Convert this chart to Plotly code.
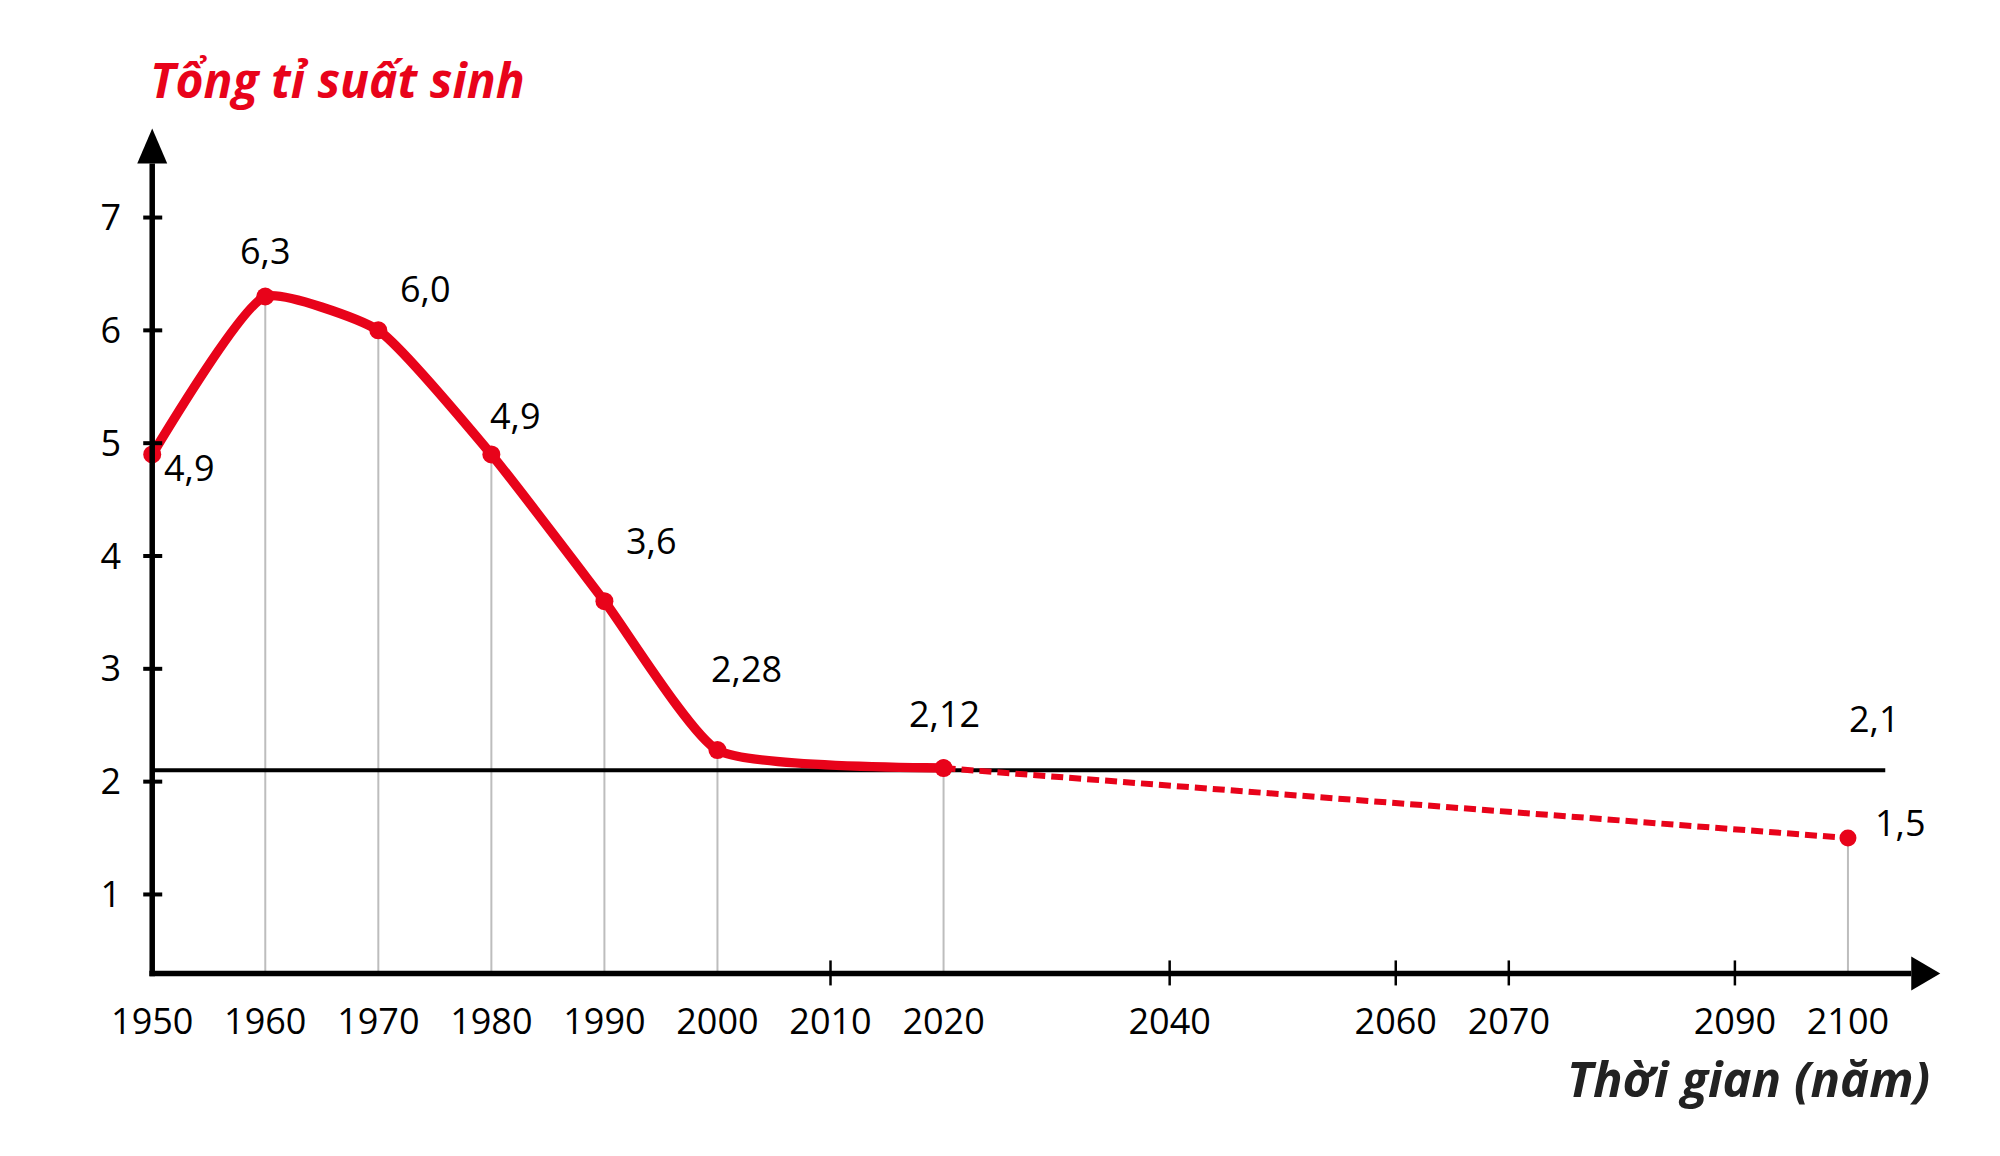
import plotly.graph_objects as go

# ---------------- data ----------------
years = [1950, 1960, 1970, 1980, 1990, 2000, 2020, 2100]
tfr = [4.9, 6.3, 6.0, 4.9, 3.6, 2.28, 2.12, 1.5]
tfr_labels = ["4,9", "6,3", "6,0", "4,9", "3,6", "2,28", "2,12", "1,5"]
observed_end = 2020
replacement_level = 2.1
replacement_label = "2,1"
x_tick_years = [1950, 1960, 1970, 1980, 1990, 2000, 2010, 2020, 2040, 2060, 2070, 2090, 2100]
x_tick_text = [str(y) for y in x_tick_years]
x_mark_years = [2010, 2040, 2060, 2070, 2090]
y_tick_vals = [1, 2, 3, 4, 5, 6, 7]
y_tick_text = [str(v) for v in y_tick_vals]
y_title = "Tổng tỉ suất sinh"
x_title = "Thời gian (năm)"

# ---------------- style ----------------
RED = "#e8031a"
FONT = "Open Sans"
BODY = 8  # default page body margin
W, H = 2000 - BODY, 1156 - BODY
ML, MR, MT, MB = 107 - BODY, 39, 116 - BODY, 160
X0, X1 = 1946, 2110
Y0, Y1 = 0.1, 7.9
AXIS_Y = 0.3
AXIS_X = 1950
XEND = 2105.6
YEND = 7.48
REPL_END = 2103.3

# label offsets (px): dx, dy(up)
label_offsets = [(37, -13), (0, 46), (47, 42), (24, 39), (47, 61), (29, 82), (1, 55), (52, 16)]

fig = go.Figure()

obs_x = [x for x in years if x <= observed_end]
obs_y = [v for x, v in zip(years, tfr) if x <= observed_end]
prj_x = [x for x in years if x >= observed_end]
prj_y = [v for x, v in zip(years, tfr) if x >= observed_end]

fig.add_trace(go.Scatter(
    x=prj_x, y=prj_y, mode="lines+markers",
    line=dict(color=RED, width=6, dash="12px,6px"),
    marker=dict(color=RED, size=17), cliponaxis=False, hoverinfo="skip"))
fig.add_trace(go.Scatter(
    x=obs_x, y=obs_y, mode="lines+markers",
    line=dict(color=RED, width=9.5, shape="spline", smoothing=0.5),
    marker=dict(color=RED, size=18), cliponaxis=False, hoverinfo="skip"))

shapes = []
# drop lines
for x, v in zip(years, tfr):
    if x == AXIS_X:
        continue
    shapes.append(dict(type="line", xref="x", yref="y", x0=x, x1=x, y0=AXIS_Y, y1=v,
                       line=dict(color="#bdbdbd", width=2), layer="below"))
# replacement line
shapes.append(dict(type="line", xref="x", yref="y", x0=AXIS_X, x1=REPL_END,
                   y0=replacement_level, y1=replacement_level,
                   line=dict(color="black", width=4), layer="below"))
# axes
shapes.append(dict(type="line", xref="x", yref="y", x0=AXIS_X - 0.25, x1=XEND,
                   y0=AXIS_Y, y1=AXIS_Y, line=dict(color="black", width=5.5)))
shapes.append(dict(type="line", xref="x", yref="y", x0=AXIS_X, x1=AXIS_X,
                   y0=AXIS_Y - 0.025, y1=YEND, line=dict(color="black", width=5.5)))
# y ticks
for v in y_tick_vals:
    shapes.append(dict(type="line", xref="x", yref="y", xsizemode="pixel", xanchor=AXIS_X,
                       x0=-9, x1=10, y0=v, y1=v, line=dict(color="black", width=4)))
# x tick marks
for x in x_mark_years:
    shapes.append(dict(type="line", xref="x", yref="y", ysizemode="pixel", yanchor=AXIS_Y,
                       x0=x, x1=x, y0=-12, y1=13, line=dict(color="black", width=2.5)))
# arrows
shapes.append(dict(type="path", xref="x", yref="y", xsizemode="pixel", ysizemode="pixel",
                   xanchor=AXIS_X, yanchor=YEND, path="M -15,0 L 15,0 L 0,35 Z",
                   fillcolor="black", line=dict(width=0)))
shapes.append(dict(type="path", xref="x", yref="y", xsizemode="pixel", ysizemode="pixel",
                   xanchor=XEND, yanchor=AXIS_Y, path="M 0,-17 L 0,17 L 29,0 Z",
                   fillcolor="black", line=dict(width=0)))

annotations = []
for x, v, t, (dx, dy) in zip(years, tfr, tfr_labels, label_offsets):
    annotations.append(dict(x=x, y=v, xref="x", yref="y", text=t, showarrow=False,
                            xshift=dx, yshift=dy, xanchor="center", yanchor="middle",
                            font=dict(family=FONT, size=36, color="black")))
annotations.append(dict(x=REPL_END, y=replacement_level, xref="x", yref="y",
                        text=replacement_label, showarrow=False, xshift=-11, yshift=52,
                        xanchor="center", yanchor="middle",
                        font=dict(family=FONT, size=36, color="black")))

pw = W - ML - MR
ph = H - MT - MB
def px_x(p):  # screen pixel -> paper fraction
    return (p - BODY - ML) / pw
def px_y(p):
    return (H - MB - (p - BODY)) / ph

annotations.append(dict(x=px_x(148), y=px_y(80), xref="paper", yref="paper", text="<b><i>" + y_title + "</i></b>",
                        showarrow=False, xanchor="left", yanchor="middle",
                        font=dict(family=FONT, size=48, color=RED)))
annotations.append(dict(x=px_x(1932), y=px_y(1078), xref="paper", yref="paper", text="<b><i>" + x_title + "</i></b>",
                        showarrow=False, xanchor="right", yanchor="middle",
                        font=dict(family=FONT, size=49, color="#222222")))

fig.update_layout(
    width=W, height=H,
    margin=dict(l=ML, r=MR, t=MT, b=MB, pad=0, autoexpand=False),
    plot_bgcolor="white", paper_bgcolor="white",
    showlegend=False,
    shapes=shapes, annotations=annotations,
    font=dict(family=FONT, size=36, color="black"),
    xaxis=dict(range=[X0, X1], showgrid=False, zeroline=False, showline=False, automargin=False,
               tickmode="array", tickvals=x_tick_years, ticktext=x_tick_text,
               ticks="", ticklabelstandoff=1, tickfont=dict(family=FONT, size=36, color="black")),
    yaxis=dict(range=[Y0, Y1], showgrid=False, zeroline=False, showline=False, automargin=False,
               tickmode="array", tickvals=y_tick_vals, ticktext=y_tick_text,
               ticks="", ticklabelstandoff=-15, tickfont=dict(family=FONT, size=36, color="black")),
)

fig.write_html("out.html")
